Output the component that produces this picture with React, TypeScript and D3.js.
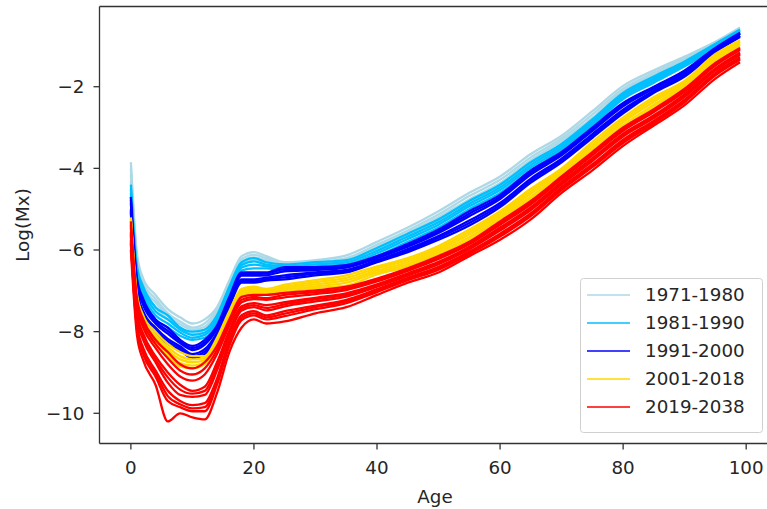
import React from "react";
import * as d3 from "d3";

const AGES = [0, 1, 2, 4, 6, 8, 10, 12, 14, 16, 18, 20, 22, 25, 30, 35, 40, 45, 50, 55, 60, 65, 70, 75, 80, 85, 90, 95, 99];

const LINES_1971_1980 = [
  [-3.85, -6.1, -6.7, -7.1, -7.45, -7.65, -7.8, -7.7, -7.4, -6.75, -6.15, -6.05, -6.15, -6.3, -6.25, -6.13, -5.8, -5.45, -5.05, -4.6, -4.2, -3.65, -3.2, -2.6, -1.98, -1.6, -1.26, -0.9, -0.55],
  [-4.0, -6.25, -6.8, -7.2, -7.55, -7.75, -7.9, -7.8, -7.45, -6.85, -6.22, -6.12, -6.2, -6.36, -6.3, -6.2, -5.87, -5.52, -5.13, -4.68, -4.28, -3.73, -3.27, -2.68, -2.05, -1.66, -1.3, -0.93, -0.6],
  [-4.15, -6.35, -6.9, -7.28, -7.62, -7.82, -7.95, -7.88, -7.52, -6.9, -6.28, -6.18, -6.25, -6.4, -6.36, -6.25, -5.93, -5.58, -5.2, -4.76, -4.36, -3.8, -3.33, -2.76, -2.1, -1.71, -1.34, -0.96, -0.63],
  [-4.3, -6.5, -7.0, -7.4, -7.7, -7.9, -8.05, -7.95, -7.6, -6.95, -6.35, -6.25, -6.3, -6.45, -6.42, -6.3, -6.0, -5.65, -5.3, -4.85, -4.45, -3.9, -3.4, -2.85, -2.16, -1.78, -1.39, -1.0, -0.68],
];
const LINES_1981_1990 = [
  [-4.4, -6.4, -6.9, -7.4, -7.6, -7.9, -8.0, -7.95, -7.6, -6.9, -6.3, -6.2, -6.3, -6.35, -6.3, -6.25, -5.95, -5.6, -5.25, -4.8, -4.4, -3.85, -3.4, -2.8, -2.15, -1.75, -1.38, -0.95, -0.6],
  [-4.5, -6.55, -7.0, -7.5, -7.7, -7.95, -8.08, -8.02, -7.68, -6.97, -6.37, -6.28, -6.36, -6.4, -6.35, -6.3, -6.02, -5.67, -5.32, -4.87, -4.47, -3.92, -3.45, -2.85, -2.2, -1.8, -1.42, -0.98, -0.63],
  [-4.6, -6.65, -7.1, -7.6, -7.8, -8.02, -8.15, -8.08, -7.74, -7.03, -6.43, -6.36, -6.4, -6.45, -6.4, -6.35, -6.08, -5.73, -5.38, -4.93, -4.53, -3.98, -3.5, -2.9, -2.25, -1.85, -1.46, -1.01, -0.66],
  [-4.7, -6.8, -7.2, -7.7, -7.9, -8.1, -8.2, -8.15, -7.8, -7.1, -6.5, -6.45, -6.45, -6.5, -6.45, -6.4, -6.15, -5.8, -5.45, -5.0, -4.6, -4.05, -3.55, -2.95, -2.3, -1.9, -1.5, -1.05, -0.7],
];
const LINES_1991_2000 = [
  [-4.7, -6.7, -7.2, -7.7, -7.9, -8.2, -8.35, -8.2, -7.85, -7.15, -6.55, -6.55, -6.55, -6.42, -6.42, -6.37, -6.15, -5.85, -5.5, -5.05, -4.65, -4.05, -3.6, -3.0, -2.4, -2.0, -1.6, -1.05, -0.68],
  [-4.78, -6.78, -7.28, -7.75, -7.98, -8.24, -8.4, -8.26, -7.89, -7.2, -6.59, -6.59, -6.58, -6.47, -6.46, -6.4, -6.18, -5.89, -5.54, -5.11, -4.7, -4.1, -3.64, -3.04, -2.44, -2.02, -1.62, -1.06, -0.7],
  [-4.85, -6.85, -7.35, -7.8, -8.05, -8.28, -8.45, -8.32, -7.93, -7.24, -6.63, -6.63, -6.62, -6.52, -6.49, -6.43, -6.2, -5.92, -5.58, -5.17, -4.75, -4.15, -3.68, -3.08, -2.48, -2.05, -1.65, -1.08, -0.71],
  [-5.0, -6.95, -7.5, -7.9, -8.18, -8.36, -8.55, -8.43, -8.02, -7.32, -6.72, -6.72, -6.68, -6.62, -6.55, -6.49, -6.25, -5.98, -5.66, -5.28, -4.85, -4.25, -3.76, -3.16, -2.56, -2.1, -1.7, -1.12, -0.75],
  [-5.05, -7.02, -7.55, -7.95, -8.24, -8.4, -8.6, -8.49, -8.06, -7.36, -6.76, -6.76, -6.72, -6.67, -6.58, -6.52, -6.28, -6.02, -5.7, -5.34, -4.9, -4.3, -3.8, -3.2, -2.6, -2.12, -1.72, -1.14, -0.76],
  [-5.1, -7.1, -7.6, -8.0, -8.3, -8.45, -8.65, -8.55, -8.1, -7.4, -6.8, -6.8, -6.75, -6.72, -6.62, -6.55, -6.3, -6.05, -5.75, -5.4, -4.95, -4.35, -3.85, -3.25, -2.65, -2.15, -1.75, -1.15, -0.78],
];
const LINES_2001_2018 = [
  [-5.2, -7.1, -7.6, -8.0, -8.3, -8.5, -8.6, -8.6, -8.15, -7.5, -6.95, -6.9, -6.95, -6.85, -6.74, -6.62, -6.4, -6.2, -5.9, -5.5, -5.05, -4.5, -4.0, -3.35, -2.75, -2.25, -1.85, -1.2, -0.86],
  [-5.25, -7.18, -7.68, -8.08, -8.38, -8.6, -8.68, -8.65, -8.2, -7.55, -7.0, -6.94, -6.99, -6.9, -6.79, -6.68, -6.45, -6.25, -5.95, -5.56, -5.1, -4.56, -4.04, -3.42, -2.81, -2.31, -1.89, -1.25, -0.9],
  [-5.3, -7.25, -7.75, -8.15, -8.45, -8.68, -8.75, -8.7, -8.25, -7.6, -7.05, -6.97, -7.02, -6.94, -6.84, -6.74, -6.5, -6.3, -6.0, -5.62, -5.15, -4.62, -4.08, -3.48, -2.87, -2.37, -1.93, -1.3, -0.94],
  [-5.35, -7.32, -7.82, -8.22, -8.52, -8.77, -8.83, -8.75, -8.3, -7.66, -7.1, -7.01, -7.06, -6.98, -6.89, -6.8, -6.55, -6.35, -6.05, -5.69, -5.2, -4.69, -4.12, -3.54, -2.94, -2.44, -1.96, -1.35, -0.98],
  [-5.4, -7.4, -7.9, -8.3, -8.6, -8.85, -8.9, -8.8, -8.35, -7.7, -7.15, -7.05, -7.1, -7.03, -6.93, -6.87, -6.6, -6.4, -6.1, -5.75, -5.25, -4.75, -4.15, -3.6, -3.0, -2.5, -2.0, -1.4, -1.02],
];
const LINES_2019_2038 = [
  [-5.3, -7.2, -7.7, -8.2, -8.5, -8.8, -8.9, -8.75, -8.35, -7.7, -7.15, -7.1, -7.1, -7.05, -6.99, -6.9, -6.7, -6.45, -6.15, -5.8, -5.3, -4.8, -4.2, -3.6, -3.0, -2.55, -2.05, -1.42, -1.05],
  [-5.38, -7.3, -7.8, -8.3, -8.65, -8.95, -9.05, -8.9, -8.45, -7.78, -7.22, -7.15, -7.18, -7.1, -7.03, -6.94, -6.73, -6.48, -6.18, -5.83, -5.34, -4.84, -4.24, -3.64, -3.04, -2.58, -2.08, -1.45, -1.07],
  [-5.45, -7.4, -7.9, -8.4, -8.8, -9.1, -9.2, -9.05, -8.55, -7.85, -7.28, -7.2, -7.22, -7.16, -7.08, -6.98, -6.77, -6.51, -6.22, -5.86, -5.38, -4.88, -4.27, -3.68, -3.08, -2.62, -2.12, -1.48, -1.1],
  [-5.55, -7.55, -8.05, -8.6, -9.0, -9.3, -9.45, -9.35, -8.75, -7.98, -7.38, -7.3, -7.35, -7.28, -7.17, -7.06, -6.84, -6.57, -6.29, -5.92, -5.45, -4.95, -4.33, -3.75, -3.15, -2.7, -2.18, -1.55, -1.16],
  [-5.6, -7.62, -8.12, -8.68, -9.12, -9.42, -9.52, -9.45, -8.85, -8.04, -7.43, -7.35, -7.42, -7.33, -7.21, -7.1, -6.87, -6.6, -6.32, -5.95, -5.49, -4.99, -4.37, -3.79, -3.19, -2.74, -2.22, -1.58, -1.19],
  [-5.65, -7.7, -8.2, -8.75, -9.25, -9.55, -9.6, -9.55, -8.95, -8.1, -7.48, -7.4, -7.48, -7.38, -7.26, -7.14, -6.9, -6.63, -6.35, -5.98, -5.52, -5.02, -4.4, -3.82, -3.22, -2.77, -2.25, -1.6, -1.22],
  [-5.75, -7.85, -8.4, -8.95, -9.45, -9.7, -9.8, -9.75, -9.15, -8.22, -7.6, -7.5, -7.6, -7.5, -7.36, -7.22, -6.96, -6.68, -6.41, -6.04, -5.6, -5.1, -4.46, -3.9, -3.3, -2.83, -2.32, -1.66, -1.28],
  [-5.8, -7.9, -8.48, -9.02, -9.58, -9.78, -9.88, -9.85, -9.22, -8.28, -7.66, -7.55, -7.65, -7.56, -7.4, -7.26, -7.0, -6.71, -6.45, -6.07, -5.64, -5.14, -4.5, -3.94, -3.34, -2.87, -2.35, -1.69, -1.31],
  [-5.85, -7.95, -8.55, -9.1, -9.7, -9.85, -9.95, -9.95, -9.3, -8.35, -7.72, -7.6, -7.7, -7.62, -7.45, -7.3, -7.03, -6.74, -6.48, -6.1, -5.67, -5.17, -4.53, -3.97, -3.38, -2.9, -2.38, -1.72, -1.34],
  [-6.0, -8.1, -8.7, -9.3, -10.2, -10.0, -10.1, -10.15, -9.5, -8.5, -7.9, -7.7, -7.8, -7.75, -7.55, -7.4, -7.1, -6.8, -6.55, -6.15, -5.75, -5.25, -4.6, -4.05, -3.45, -2.95, -2.45, -1.8, -1.4],
];

const GROUP_LABELS = ["1971-1980", "1981-1990", "1991-2000", "2001-2018", "2019-2038"];
const GROUP_COLORS = ["#add8e6", "#00bfff", "#0000ff", "#ffd700", "#ff0000"];
const GROUP_LINES = [LINES_1971_1980, LINES_1981_1990, LINES_1991_2000, LINES_2001_2018, LINES_2019_2038];

const X_TICKS = [0, 20, 40, 60, 80, 100];
const Y_TICKS = [-2, -4, -6, -8, -10];

const W = 767;
const H = 509;
const L = 99.5, R = 770.5, T = 6.5, B = 443.5;
const FONT = "'DejaVu Sans', sans-serif";
const FS = 18.3;

export default function App() {
  const x = d3.scaleLinear().domain([-5.1, 103.95]).range([L, R]);
  const y = d3.scaleLinear().domain([-10.74, -0.035]).range([B, T]);
  const line = d3
    .line<number>()
    .x((_, i) => x(AGES[i]))
    .y((d) => y(d))
    .curve(d3.curveMonotoneX);

  const legX = 580.5, legY = 278.5, legW = 182, legH = 154;
  const rowY0 = 295, rowStep = 28;

  return (
    <svg width={W} height={H} style={{ position: "absolute", left: 0, top: 0, background: "#fff" }} fontFamily={FONT}>
      <defs>
        <clipPath id="plotclip">
          <rect x={L} y={T} width={R - L} height={B - T} />
        </clipPath>
      </defs>
      <rect x={0} y={0} width={W} height={H} fill="#fff" />
      <g clipPath="url(#plotclip)">
        {GROUP_LINES.map((lines, gi) =>
          lines.map((vals, li) => (
            <path
              key={`${gi}-${li}`}
              d={line(vals) || ""}
              fill="none"
              stroke={GROUP_COLORS[gi]}
              strokeWidth={2.3}
              strokeLinejoin="round"
            />
          ))
        )}
      </g>
      <g stroke="#333" strokeWidth={1.3} fill="none">
        <line x1={L} y1={T} x2={L} y2={B} />
        <line x1={L} y1={B} x2={R} y2={B} />
        <line x1={L} y1={T} x2={R} y2={T} />
        <line x1={R} y1={T} x2={R} y2={B} />
      </g>
      {X_TICKS.map((t) => (
        <g key={`xt${t}`}>
          <line x1={x(t)} x2={x(t)} y1={B} y2={B + 6} stroke="#333" strokeWidth={1.3} />
          <text x={x(t)} y={B + 30} textAnchor="middle" fontSize={FS} fill="#262626">
            {t}
          </text>
        </g>
      ))}
      {Y_TICKS.map((t) => (
        <g key={`yt${t}`}>
          <line x1={L - 6} x2={L} y1={y(t)} y2={y(t)} stroke="#333" strokeWidth={1.3} />
          <text x={L - 15} y={y(t)} dy="0.35em" textAnchor="end" fontSize={FS} fill="#262626">
            {"\u2212" + Math.abs(t)}
          </text>
        </g>
      ))}
      <text x={435} y={503} textAnchor="middle" fontSize={FS} fill="#262626">
        Age
      </text>
      <text
        transform={`translate(29, ${(T + B) / 2}) rotate(-90)`}
        textAnchor="middle"
        fontSize={FS}
        fill="#262626"
      >
        Log(Mx)
      </text>
      <rect x={legX} y={legY} width={legW} height={legH} rx={3} fill="#fff" fillOpacity={0.8} stroke="#d0d0d0" strokeWidth={1} />
      {GROUP_LABELS.map((lab, i) => (
        <g key={lab}>
          <line x1={587} x2={630} y1={rowY0 + i * rowStep} y2={rowY0 + i * rowStep} stroke={GROUP_COLORS[i]} strokeWidth={1.6} />
          <text x={645} y={rowY0 + i * rowStep} dy="0.35em" fontSize={FS} fill="#262626">
            {lab}
          </text>
        </g>
      ))}
    </svg>
  );
}
